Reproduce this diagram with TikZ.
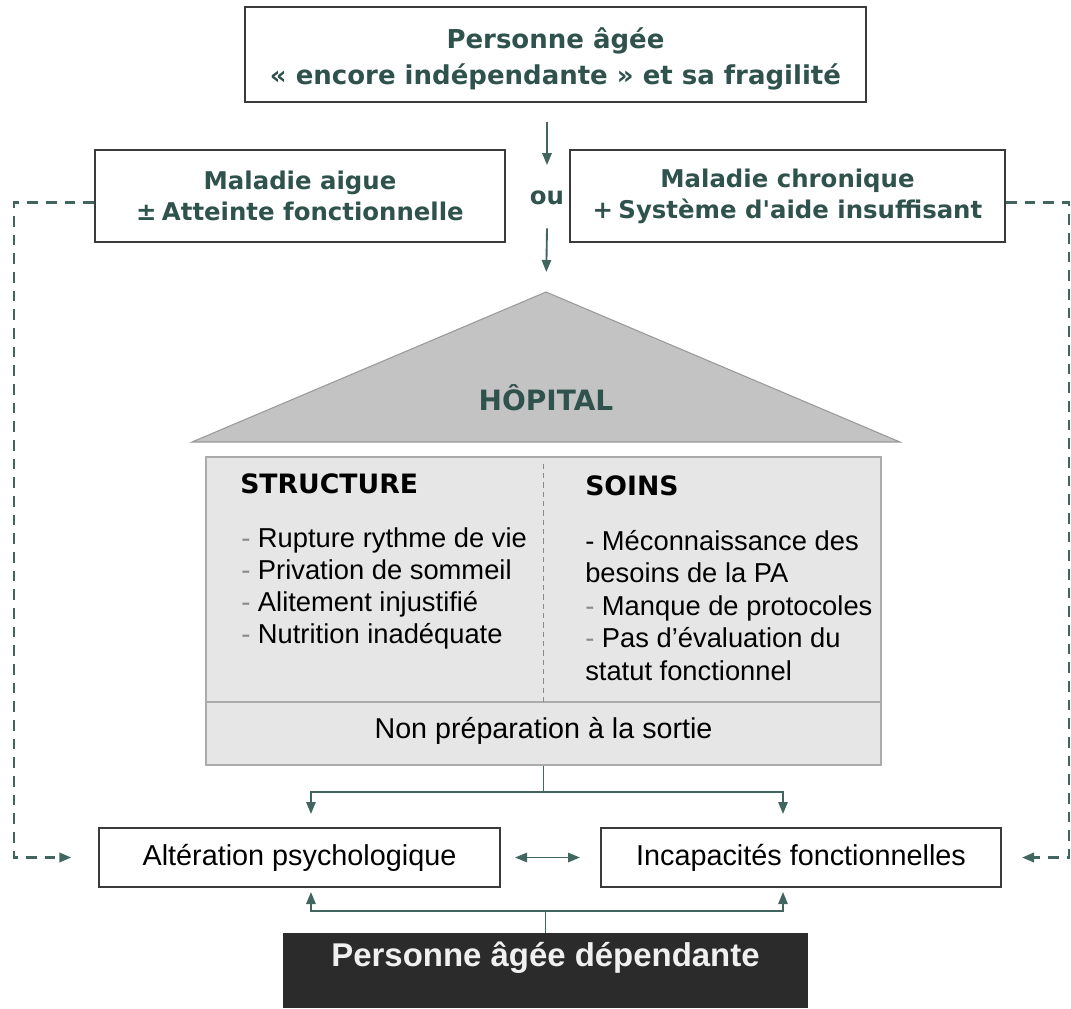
\documentclass[tikz,border=0pt]{standalone}
\usepackage{fontspec}
\setmainfont{Liberation Sans}
\newfontfamily\verdfont{DejaVu Sans}
\usetikzlibrary{arrows.meta}

\definecolor{tealtext}{HTML}{2F524D}
\definecolor{tealline}{HTML}{41665F}
\definecolor{boxline}{HTML}{3A3A3A}
\definecolor{roofgray}{HTML}{C3C3C3}
\definecolor{roofline}{HTML}{9A9A9A}
\definecolor{bodygray}{HTML}{E6E6E6}
\definecolor{bodyline}{HTML}{ABABAB}
\definecolor{darkbox}{HTML}{2B2B2B}
\definecolor{dashgray}{HTML}{8A8A8A}

\tikzset{
framebox/.style={draw=boxline, line width=1.5pt, fill=white, inner sep=0pt},
tophead/.style={font=\verdfont\bfseries\fontsize{19.5}{27}\selectfont, text=tealtext, align=center},
sidehead/.style={font=\verdfont\bfseries\fontsize{18.3}{23.25}\selectfont, text=tealtext, align=center},
colhead/.style={font=\verdfont\bfseries\fontsize{20}{24}\selectfont, anchor=west, inner sep=0pt},
listitem/.style={font=\fontsize{20.5}{24}\selectfont, anchor=base west, inner sep=0pt},
effect/.style={framebox, minimum height=44.25pt, font=\fontsize{21.6}{26}\selectfont},
link/.style={draw=tealline, line width=1.4pt},
tip/.style={-{Triangle[length=9pt,width=7pt]}},
dashlink/.style={draw=tealline, line width=2pt, dash pattern=on 8pt off 6pt},
}

\begin{document}
\begin{tikzpicture}[x=0.75pt, y=-0.75pt]
\useasboundingbox (0,0) rectangle (1071,1008);

% entree
\node[framebox, minimum width=465.75pt, minimum height=71.25pt, tophead] (indep) at (555.5,54.5) {\rule{0pt}{22pt}Personne âgée\\« encore indépendante » et sa fragilité};
\node[framebox, minimum width=307.5pt, minimum height=69pt, sidehead] (aigue) at (300,196) {Maladie aigue\\±\hspace{4pt}Atteinte fonctionnelle};
\node[framebox, minimum width=326.25pt, minimum height=69pt, sidehead] (chron) at (787.5,196) {Maladie chronique\\+\hspace{4pt}Système d'aide insuffisant};
\node[sidehead, minimum height=45pt, inner sep=0pt] (ou) at (547,198) {ou};

% hopital
\coordinate (roofapex) at (546,292);
\filldraw[fill=roofgray, draw=roofline, line width=0.8pt] (roofapex) -- (900,442) -- (192,442) -- cycle;
\node[font=\verdfont\bfseries\fontsize{21}{25}\selectfont, text=tealtext] (hopital) at (546,398) {HÔPITAL};

\node[fill=bodygray, draw=bodyline, line width=1.8pt, minimum width=506.25pt, minimum height=231pt, inner sep=0pt] (body) at (543.5,611) {};
\draw[bodyline, line width=1.5pt] ([yshift=48pt]body.south west) -- ([yshift=48pt]body.south east);
\draw[dashgray, line width=0.8pt, dash pattern=on 4pt off 3pt] ([yshift=-6pt]body.north) -- ([yshift=48pt]body.south);

\node[colhead] (structure) at (240,484) {STRUCTURE};
\node[colhead] (soins) at (585,486) {SOINS};
\foreach \txt [count=\i] in {Rupture rythme de vie, Privation de sommeil, Alitement injustifié, Nutrition inadéquate}
\node[listitem] (str\i) at (241,515+32*\i) {\textcolor{dashgray}{-} \txt};
\foreach \dash/\txt [count=\i] in {{-\ }/Méconnaissance des, {}/besoins de la PA, {\textcolor{dashgray}{-} }/Manque de protocoles, {\textcolor{dashgray}{-} }/Pas d'évaluation du, {}/statut fonctionnel}
\node[listitem] (soin\i) at (585,517.5+32.5*\i) {\dash\txt};
\node[font=\fontsize{21.5}{26}\selectfont] (sortie) at (543.5,731) {Non préparation à la sortie};

% consequences
\node[effect, minimum width=300.75pt] (alt) at (299.5,857.5) {Altération psychologique};
\node[effect, minimum width=300pt] (inc) at (801,857.5) {Incapacités fonctionnelles};
\node[fill=darkbox, minimum width=393.75pt, minimum height=56.25pt, inner sep=0pt] (dep) at (545.5,970.5) {};
\node[font=\bfseries\fontsize{24.7}{30}\selectfont, text=white!94!black] (deplabel) at (545.5,958) {Personne âgée dépendante};

% fleches
\draw[link, tip, shorten <=14pt, shorten >=2pt] (indep.south -| ou.north) -- (ou.north);
\draw[link, tip, shorten >=15pt] (ou.south) -- (roofapex);

\coordinate (topsplit) at (543.5,792);
\coordinate (botsplit) at (545.5,911);
\draw[link] (body.south) -- (topsplit);
\draw[link, tip] (topsplit) -| ([xshift=8.6pt,yshift=9.75pt]alt.north);
\draw[link, tip] (topsplit) -| ([xshift=-13.5pt,yshift=9.75pt]inc.north);
\draw[link] (dep.north) -- (botsplit);
\draw[link, tip] (botsplit) -| ([xshift=8.6pt,yshift=-3pt]alt.south);
\draw[link, tip] (botsplit) -| ([xshift=-13.5pt,yshift=-3pt]inc.south);
\draw[link, {Triangle[length=9pt,width=7pt]}-{Triangle[length=9pt,width=7pt]}] ([xshift=10.5pt]alt.east) -- ([xshift=-15pt]inc.west);

\draw[dashlink, tip] ([yshift=-5pt]aigue.west) -- ++(-80,0) |- ([xshift=-20pt]alt.west);
\draw[dashlink, tip] ([yshift=-5pt]chron.east) -- ++(63,0) |- ([xshift=15pt]inc.east);
\end{tikzpicture}
\end{document}
